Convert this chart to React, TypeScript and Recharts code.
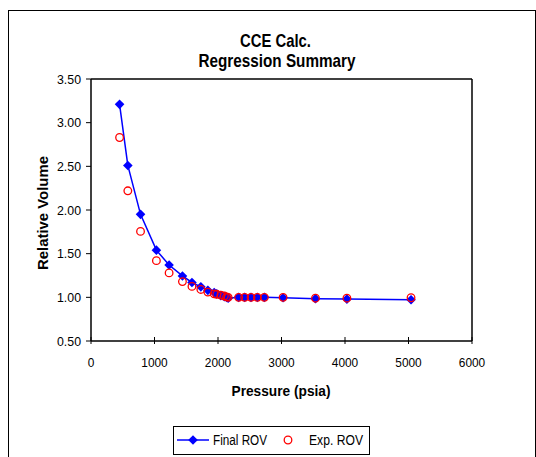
import { ComposedChart, Line, XAxis, YAxis, Legend, ReferenceLine } from 'recharts';

const FONT = "'Liberation Sans', Arial, sans-serif";

// pressure steps (psia)
const pressure = [450, 580, 780, 1030, 1230, 1440, 1590, 1730, 1840, 1940, 1980, 2045, 2100, 2135, 2160, 2325, 2420, 2520, 2620, 2730, 3025, 3535, 4030, 5040];
// regressed relative volume
const finalRov = [3.21, 2.51, 1.95, 1.54, 1.37, 1.245, 1.17, 1.12, 1.08, 1.055, 1.04, 1.02, 1.008, 0.998, 0.99, 1.0, 1.0, 1.0, 1.0, 1.0, 0.995, 0.985, 0.98, 0.972];
// measured relative volume
const expRov = [2.83, 2.22, 1.755, 1.42, 1.28, 1.18, 1.125, 1.09, 1.06, 1.04, 1.035, 1.025, 1.015, 1.005, 1.0, 1.0, 1.0, 1.0, 1.0, 1.0, 1.0, 0.99, 0.99, 0.995];

const xTicks = [0, 1000, 2000, 3000, 4000, 5000, 6000];
const yTicks = [0.5, 1.0, 1.5, 2.0, 2.5, 3.0, 3.5];

const data = pressure.map((p, i) => ({ p, final: finalRov[i], exp: expRov[i] }));

const X_TICK_SIZE = 3;
const X_TICK_MARGIN = 13;
const DIGIT_W = 6.6;

const XTick = (props: any) => {
  const { x, y, payload } = props;
  const axisY = y - X_TICK_SIZE - X_TICK_MARGIN;
  const label = String(payload.value);
  return (
    <g>
      <line x1={x} x2={x} y1={axisY - 4} y2={axisY} stroke="#000" strokeWidth={1} />
      <text
        x={x}
        y={y}
        dy="0.71em"
        textAnchor="middle"
        fill="#000"
        fontSize={13.5}
        fontFamily={FONT}
        textLength={label.length * DIGIT_W}
        lengthAdjust="spacingAndGlyphs"
      >
        {label}
      </text>
    </g>
  );
};

const YTick = (props: any) => {
  const { x, y, payload } = props;
  return (
    <text
      x={x}
      y={y}
      dy="0.355em"
      textAnchor="end"
      fill="#000"
      fontSize={13.5}
      fontFamily={FONT}
      textLength={24}
      lengthAdjust="spacingAndGlyphs"
    >
      {Number(payload.value).toFixed(2)}
    </text>
  );
};

const Diamond = (props: any) => {
  const { cx, cy } = props;
  if (cx == null || cy == null) return null;
  const r = 4.8;
  return <path d={`M${cx},${cy - r}L${cx + r},${cy}L${cx},${cy + r}L${cx - r},${cy}Z`} fill="#0000FF" />;
};

const Ring = (props: any) => {
  const { cx, cy } = props;
  if (cx == null || cy == null) return null;
  return <circle cx={cx} cy={cy} r={3.8} fill="none" stroke="#FF0000" strokeWidth={1.3} />;
};

const LegendBox = () => (
  <svg width={197} height={29} style={{ display: 'block' }}>
    <rect x={0.5} y={0.5} width={196} height={28} fill="#fff" stroke="#000" strokeWidth={1} />
    <line x1={4} x2={36} y1={14} y2={14} stroke="#0000FF" strokeWidth={1.5} />
    <Diamond cx={20} cy={14} />
    <text x={40} y={19} fontSize={14} fontFamily={FONT} fill="#000" textLength={54} lengthAdjust="spacingAndGlyphs">
      Final ROV
    </text>
    <Ring cx={115} cy={14} />
    <text x={136} y={19} fontSize={14} fontFamily={FONT} fill="#000" textLength={54} lengthAdjust="spacingAndGlyphs">
      Exp. ROV
    </text>
  </svg>
);

export default function App() {
  return (
    <div style={{ position: 'absolute', left: 0, top: 0, width: 536, height: 457, background: '#fff', overflow: 'hidden' }}>
      <div style={{ position: 'absolute', left: 8, top: 10, width: 526, height: 460, border: '1px solid #000' }} />
      <div style={{ position: 'absolute', left: 0, top: 0 }}>
        <ComposedChart
          width={536}
          height={457}
          data={data}
          margin={{ top: 79, right: 64, left: 41, bottom: 86 }}
        >
          <text x={275.5} y={46.7} textAnchor="middle" fontSize={18.5} fontWeight="bold" fontFamily={FONT} fill="#000" textLength={71} lengthAdjust="spacingAndGlyphs">
            CCE Calc.
          </text>
          <text x={277} y={66.7} textAnchor="middle" fontSize={18.5} fontWeight="bold" fontFamily={FONT} fill="#000" textLength={157} lengthAdjust="spacingAndGlyphs">
            Regression Summary
          </text>
          <text x={281} y={396} textAnchor="middle" fontSize={15} fontWeight="bold" fontFamily={FONT} fill="#000" textLength={99} lengthAdjust="spacingAndGlyphs">
            Pressure (psia)
          </text>
          <text
            x={43}
            y={213}
            transform="rotate(-90 43 213)"
            textAnchor="middle"
            dy="0.35em"
            fontSize={15}
            fontWeight="bold"
            fontFamily={FONT}
            fill="#000"
            textLength={114}
            lengthAdjust="spacingAndGlyphs"
          >
            Relative Volume
          </text>
          <XAxis
            dataKey="p"
            type="number"
            domain={[0, 6000]}
            ticks={xTicks}
            height={30}
            tickSize={X_TICK_SIZE}
            tickMargin={X_TICK_MARGIN}
            axisLine={{ stroke: '#000', strokeWidth: 1.5 }}
            tickLine={{ stroke: '#000' }}
            tick={<XTick />}
            allowDataOverflow
          />
          <YAxis
            type="number"
            domain={[0.5, 3.5]}
            ticks={yTicks}
            width={50}
            tickSize={5}
            tickMargin={5}
            axisLine={{ stroke: '#000', strokeWidth: 1.5 }}
            tickLine={{ stroke: '#000' }}
            tick={<YTick />}
            allowDataOverflow
          />
          <ReferenceLine y={3.5} stroke="#000" strokeWidth={1.5} />
          <ReferenceLine x={6000} stroke="#000" strokeWidth={1.5} />
          <Line
            dataKey="final"
            type="linear"
            stroke="#0000FF"
            strokeWidth={1.5}
            dot={<Diamond />}
            activeDot={false}
            isAnimationActive={false}
          />
          <Line
            dataKey="exp"
            type="linear"
            stroke="none"
            dot={<Ring />}
            activeDot={false}
            isAnimationActive={false}
          />
          <Legend
            layout="vertical"
            align="center"
            verticalAlign="middle"
            content={() => <LegendBox />}
            wrapperStyle={{ left: 173, top: 426, width: 197, height: 29 }}
          />
        </ComposedChart>
      </div>
    </div>
  );
}
